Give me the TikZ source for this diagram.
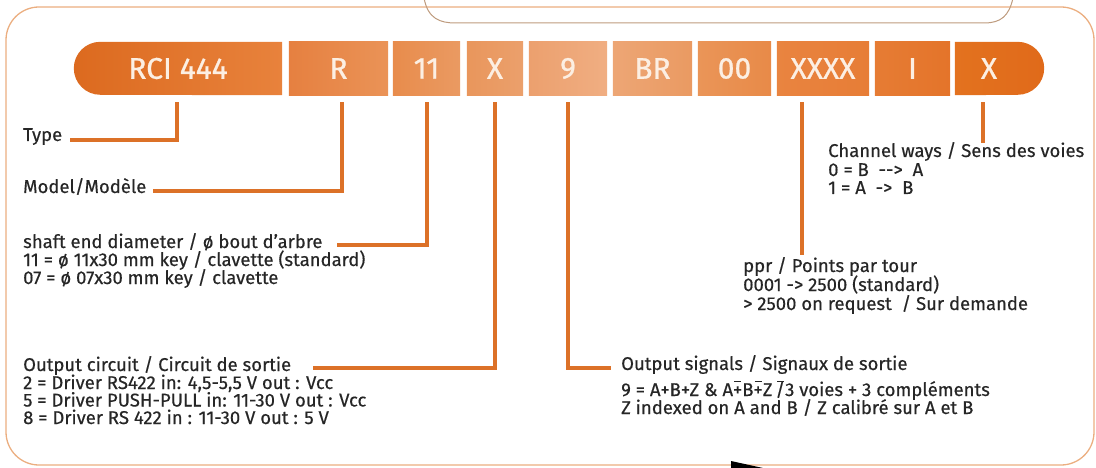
\documentclass[tikz,border=0pt]{standalone}
\usepackage{fontspec}
\setmainfont{Fira Sans}[FakeBold=0.45]
\newfontfamily\boxfont{Fira Sans}[FakeBold=0.8]
\usetikzlibrary{calc}
\definecolor{txt}{HTML}{262626}
\definecolor{boxtxt}{HTML}{FCEFE3}
\definecolor{lineor}{HTML}{DC7128}
\definecolor{framecol}{HTML}{EBAE80}
\definecolor{tabcol}{HTML}{BE9B7E}
\definecolor{cA1}{HTML}{DC6A1F}\definecolor{cA2}{HTML}{E8823C}
\definecolor{cB1}{RGB}{230,128,64}\definecolor{cB2}{RGB}{234,147,87}
\definecolor{cC1}{RGB}{232,140,76}\definecolor{cC2}{RGB}{234,154,98}
\definecolor{cD1}{RGB}{233,150,92}\definecolor{cD2}{RGB}{235,160,108}
\definecolor{cE1}{RGB}{236,160,110}\definecolor{cE2}{RGB}{240,174,130}
\definecolor{cF1}{RGB}{237,166,117}\definecolor{cF2}{RGB}{234,154,98}
\definecolor{cG1}{RGB}{234,149,88}\definecolor{cG2}{RGB}{232,138,72}
\definecolor{cH1}{RGB}{233,132,64}\definecolor{cH2}{RGB}{231,125,54}
\definecolor{cI1}{RGB}{230,124,52}\definecolor{cI2}{RGB}{228,116,42}
\definecolor{cJ1}{RGB}{227,114,31}\definecolor{cJ2}{RGB}{224,106,26}
\pgfdeclarelayer{bg}
\pgfsetlayers{bg,main}
\newcommand\ovl[1]{\setbox0\hbox{#1}\rlap{\hbox to\wd0{\hss\rule[0.74em]{0.36em}{0.07em}\hss}}\box0}
\begin{document}
\begin{tikzpicture}[x=1pt,y=-1pt,
  boxlab/.style={text=boxtxt, font=\boxfont\fontsize{30}{30}\selectfont, inner sep=0pt, minimum height=53pt},
  conn/.style={draw=lineor, line width=4pt, line join=miter},
  lab/.style={text=txt, font=\fontsize{18.5}{19}\selectfont, inner sep=0pt, anchor=base west},
]
\useasboundingbox (0,0) rectangle (1096,468);
% frame
\draw[framecol, line width=1.3pt, rounded corners=33pt] (6,7) rectangle (1094,465);
\draw[tabcol, line width=1pt] (424,-2) .. controls (428,19) and (440,23) .. (456,23) -- (984,23) .. controls (1001,23) and (1009,16) .. (1013,-2);
\fill[black] (731,461) -- (763,468) -- (731,468) -- cycle;

% box labels
\node[boxlab, minimum width=208pt] (rci) at (178,68.5) {RCI 444};
\node[boxlab, minimum width=99pt]  (bR)  at (338.5,68.5) {R};
\node[boxlab, minimum width=67pt]  (b11) at (426.5,68.5) {11};
\node[boxlab, minimum width=56pt]  (bX)  at (495,68.5) {X};
\node[boxlab, minimum width=78pt]  (b9)  at (568,68.5) {9};
\node[boxlab, minimum width=79pt]  (bBR) at (652.5,68.5) {BR};
\node[boxlab, minimum width=73pt]  (b00) at (734.5,68.5) {00};
\node[boxlab, minimum width=92pt]  (bXXXX) at (823,68.5) {XXXX};
\node[boxlab, minimum width=75pt]  (bI)  at (912.5,68.5) {I};
\node[boxlab, minimum width=68pt]  (bX2) at (989,68.5) {X};

\begin{pgfonlayer}{bg}
\shade[left color=cA1, right color=cA2]
  (rci.north east) -- ($(rci.north west)+(26.5,0)$) arc[start angle=90, end angle=270, radius=26.5pt] -- (rci.south east) -- cycle;
\shade[left color=cB1, right color=cB2] (bR.north west) rectangle (bR.south east);
\shade[left color=cC1, right color=cC2] (b11.north west) rectangle (b11.south east);
\shade[left color=cD1, right color=cD2] (bX.north west) rectangle (bX.south east);
\shade[left color=cE1, right color=cE2] (b9.north west) rectangle (b9.south east);
\shade[left color=cF1, right color=cF2] (bBR.north west) rectangle (bBR.south east);
\shade[left color=cG1, right color=cG2] (b00.north west) rectangle (b00.south east);
\shade[left color=cH1, right color=cH2] (bXXXX.north west) rectangle (bXXXX.south east);
\shade[left color=cI1, right color=cI2] (bI.north west) rectangle (bI.south east);
\shade[left color=cJ1, right color=cJ2]
  (bX2.north west) -- ($(bX2.north east)+(-5.5,0)$) arc[start angle=90, end angle=-90, radius=26.5pt] -- (bX2.south west) -- cycle;
\end{pgfonlayer}

% texts
\node[lab] (type) at (23,141) {Type};
\node[lab] (model) at (23,193) {Model/Modèle};
\node[lab] (sh1) at (23,248) {shaft end diameter / ø bout d'arbre};
\node[lab] (sh2) at (23,266) {11 = ø 11x30 mm key / clavette (standard)};
\node[lab] (sh3) at (23,284) {07 = ø 07x30 mm key / clavette};
\node[lab] (oc1) at (23,371) {Output circuit / Circuit de sortie};
\node[lab] (oc2) at (23,389) {2 = Driver RS422 in: 4,5-5,5 V out : Vcc};
\node[lab] (oc3) at (23,406.5) {5 = Driver PUSH-PULL in: 11-30 V out : Vcc};
\node[lab] (oc4) at (23,424) {8 = Driver RS 422 in : 11-30 V out : 5 V};
\node[lab] (os1) at (621,370) {Output signals / Signaux de sortie};
\node[lab] (os2) at (621,396) {9 = A+B+Z \& A\ovl{+}B\ovl{+}Z\,\ovl{/} 3 voies + 3 compléments};
\node[lab] (os3) at (621,414) {Z indexed on A and B / Z calibré sur A et B};
\node[lab] (pp1) at (743,272) {ppr / Points par tour};
\node[lab] (pp2) at (743,291) {0001 {-}> 2500 (standard)};
\node[lab] (pp3) at (743,310) {> 2500 on request\ \ / Sur demande};
\node[lab] (ch1) at (828,157) {Channel ways / Sens des voies};
\node[lab] (ch2) at (828,176) {0 = B\ \ {-}{-}>\ \ A};
\node[lab] (ch3) at (828,194) {1 = A\ \ {-}>\ \ B};

% connectors
\coordinate (eType) at (70,140);
\coordinate (eModel) at (153,191);
\coordinate (eShaft) at (337,245);
\coordinate (eOC) at (313,368);
\coordinate (eOS) at (611,368);
\draw[conn] ($(rci.south)+(-1,7)$) |- (eType);
\draw[conn] ($(bR.south)+(3.5,7)$) |- (eModel);
\draw[conn] ($(b11.south)+(0.5,7)$) |- (eShaft);
\draw[conn] ($(bX.south)+(0,7)$) |- (eOC);
\draw[conn] ($(b9.south)+(0,7)$) |- (eOS);
\draw[conn] ($(bXXXX.south)+(-21,7)$) -- ($(bXXXX.south)+(-21,160)$);
\draw[conn] ($(bX2.south)+(-6,7)$) -- ($(bX2.south)+(-6,48)$);
\end{tikzpicture}
\end{document}
